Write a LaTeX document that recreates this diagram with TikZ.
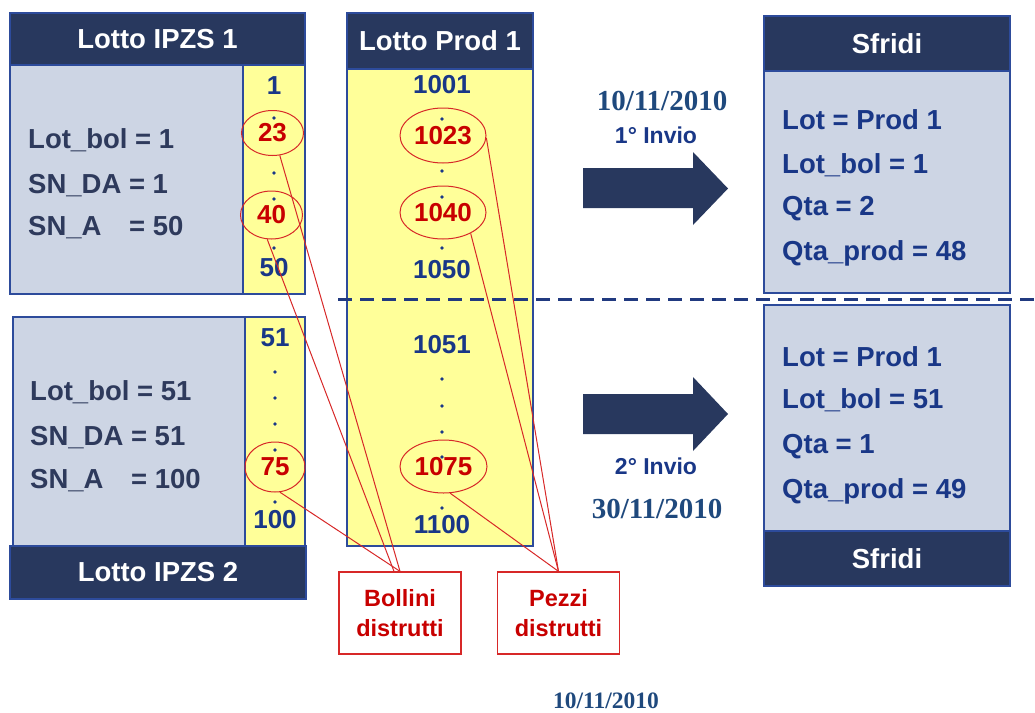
\documentclass[tikz,border=0pt]{standalone}
\usepackage{fontspec}
\setmainfont{Liberation Sans}
\newfontfamily\serifb{Liberation Serif}
\usetikzlibrary{shapes.geometric}
\definecolor{navy}{RGB}{40,56,94}
\definecolor{bodygray}{RGB}{205,213,228}
\definecolor{yel}{RGB}{255,255,153}
\definecolor{bordblue}{RGB}{45,75,155}
\definecolor{slate}{RGB}{46,58,92}
\definecolor{numblue}{RGB}{25,55,135}
\definecolor{redtxt}{RGB}{200,0,0}
\definecolor{redln}{RGB}{215,40,40}
\definecolor{datecol}{RGB}{31,73,125}
\definecolor{dashcol}{RGB}{33,58,128}
\begin{document}
\begin{tikzpicture}[x=1pt,y=-1pt,
  hdr/.style={fill=navy, draw=bordblue, line width=1.2pt, text=white, inner sep=0pt,
    font=\fontsize{27.5}{33}\selectfont\bfseries},
  graybox/.style={fill=bodygray, draw=bordblue, line width=1.2pt, inner sep=0pt},
  yelbox/.style={fill=yel, draw=bordblue, line width=1.2pt, inner sep=0pt},
  lt/.style={text=slate, inner sep=0pt, anchor=base west, font=\fontsize{27.5}{33}\selectfont\bfseries},
  st/.style={text=numblue, inner sep=0pt, anchor=base west, font=\fontsize{27.5}{33}\selectfont\bfseries},
  num/.style={text=numblue, inner sep=0pt, font=\fontsize{26}{30}\selectfont\bfseries},
  ell/.style={ellipse, draw=redln, line width=1pt, text=redtxt, inner sep=0pt,
    font=\fontsize{26}{30}\selectfont\bfseries},
  dotm/.style={fill=numblue},
  redbox/.style={draw=redln, line width=1.3pt, fill=white, text=redtxt, align=center,
    minimum width=122pt, minimum height=82pt, inner sep=0pt,
    font=\fontsize{23.5}{30}\selectfont\bfseries},
  redline/.style={draw=redln, line width=1pt},
  invio/.style={text=numblue, inner sep=0pt, anchor=base, font=\fontsize{23}{28}\selectfont\bfseries},
  datef/.style={text=datecol, inner sep=0pt, anchor=base, font=\serifb\fontsize{29}{34}\selectfont\bfseries},
  bigarrow/.style={fill=navy}
]
\useasboundingbox (0,0) rectangle (1035,712);

% ---- Lotto IPZS 1
\node[hdr, minimum width=295pt, minimum height=52pt] (h1) at (157.5,39) {Lotto IPZS 1};
\node[graybox, minimum width=233pt, minimum height=229pt] (g1) at (126.5,179.5) {};
\node[yelbox, minimum width=62pt, minimum height=229pt] (y1) at (274,179.5) {};
\node[lt] (t11) at (28,148) {Lot\_bol = 1};
\node[lt] (t12) at (28,193) {SN\_DA = 1};
\node[lt] (t13) at (28,235) {SN\_A\hspace{20pt} = 50};
\node[num] (n1) at (274,86) {1};
\node[num] (n50) at (274,268) {50};
\foreach \yy in {118,173,199,248} \fill[dotm] (274,\yy) circle (1.8pt);
\node[ell, minimum width=62pt, minimum height=45pt] (e23) at (272.5,133) {23};
\node[ell, minimum width=62pt, minimum height=48pt] (e40) at (271.5,215) {40};

% ---- Lotto IPZS 2
\node[graybox, minimum width=232pt, minimum height=229pt] (g2) at (129,431.5) {};
\node[yelbox, minimum width=60pt, minimum height=229pt] (y2) at (275,431.5) {};
\node[hdr, minimum width=296pt, minimum height=53pt] (h2) at (158,572.5) {Lotto IPZS 2};
\node[lt] (t21) at (30,400) {Lot\_bol = 51};
\node[lt] (t22) at (30,445) {SN\_DA = 51};
\node[lt] (t23) at (30,488) {SN\_A\hspace{20pt} = 100};
\node[num] (n51) at (275,338) {51};
\node[num] (n100) at (275,520) {100};
\foreach \yy in {372,398,424,450,502} \fill[dotm] (275,\yy) circle (1.8pt);
\node[ell, minimum width=60pt, minimum height=50pt] (e75) at (275,467) {75};

% ---- Lotto Prod 1
\node[hdr, minimum width=186pt, minimum height=56pt] (hp) at (440,41) {Lotto Prod 1};
\node[yelbox, minimum width=186pt, minimum height=477pt] (yp) at (440,307.5) {};
\node[num] (p1001) at (442,85) {1001};
\node[num] (p1050) at (442,270) {1050};
\node[num] (p1051) at (442,345) {1051};
\node[num] (p1100) at (442,525) {1100};
\foreach \yy in {119,171,197,248,379,406,432,457,508} \fill[dotm] (442,\yy) circle (1.8pt);
\node[ell, minimum width=86pt, minimum height=55pt] (e1023) at (443,135.5) {1023};
\node[ell, minimum width=86pt, minimum height=53pt] (e1040) at (443,212.5) {1040};
\node[ell, minimum width=87pt, minimum height=53pt] (e1075) at (443.5,466.5) {1075};

% ---- Red boxes
\node[redbox] (bol) at (400,613) {Bollini\\distrutti};
\node[redbox] (pez) at (558.5,613) {Pezzi\\distrutti};

% ---- Red connectors
\draw[redline] (e23.-72) -- (bol.north);
\draw[redline] (e40.-100) -- ([xshift=-6pt]bol.north);
\draw[redline] (e75.-79) -- (bol.north);
\draw[redline] (e1023.-3) -- (pez.north);
\draw[redline] (e1040.-37) -- (pez.north);
\draw[redline] (e1075.-76) -- (pez.north);

% ---- Sfridi boxes
\node[hdr, minimum width=246pt, minimum height=55pt] (hs1) at (887,43.5) {Sfridi};
\node[graybox, minimum width=246pt, minimum height=222pt] (bs1) at (887,182) {};
\node[st] (s11) at (782,129) {Lot = Prod 1};
\node[st] (s12) at (782,173) {Lot\_bol = 1};
\node[st] (s13) at (782,215) {Qta = 2};
\node[st] (s14) at (782,260) {Qta\_prod = 48};

\node[graybox, minimum width=246pt, minimum height=226pt] (bs2) at (887,418) {};
\node[hdr, minimum width=246pt, minimum height=55pt] (hs2) at (887,558.5) {Sfridi};
\node[st] (s21) at (782,366) {Lot = Prod 1};
\node[st] (s22) at (782,408) {Lot\_bol = 51};
\node[st] (s23) at (782,453) {Qta = 1};
\node[st] (s24) at (782,498) {Qta\_prod = 49};

% ---- Big arrows
\fill[bigarrow] (583,168) -- (693,168) -- (693,152) -- (728,188.5) -- (693,225) -- (693,208) -- (583,208) -- cycle;
\fill[bigarrow] (583,394) -- (693,394) -- (693,377) -- (728,414) -- (693,451) -- (693,434) -- (583,434) -- cycle;

% ---- Labels
\node[datef] (d1) at (662,110) {10/11/2010};
\node[invio] (i1) at (656,143) {1° Invio};
\node[invio] (i2) at (656,474) {2° Invio};
\node[datef] (d2) at (657,518) {30/11/2010};
\node[datef, font=\serifb\fontsize{23.5}{28}\selectfont\bfseries] (d3) at (606,708) {10/11/2010};

% ---- Dashed separator
\coordinate (dsA) at (338,299);
\coordinate (dsB) at (1035,299);
\draw[dashcol, line width=3pt, dash pattern=on 14pt off 8pt] (dsA) -- (dsB);
\end{tikzpicture}
\end{document}
